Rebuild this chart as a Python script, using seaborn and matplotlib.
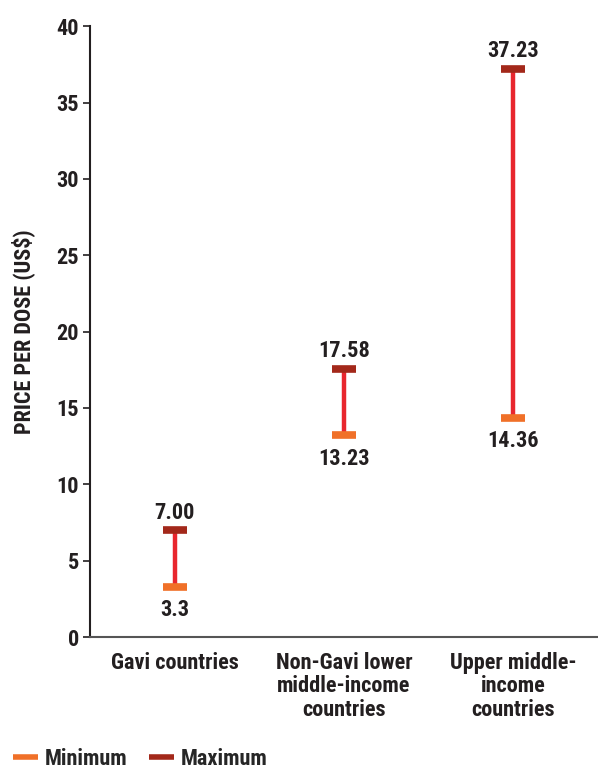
import matplotlib
matplotlib.use("Agg")
import matplotlib.pyplot as plt
from matplotlib.lines import Line2D
import pandas as pd
import seaborn as sns

categories = ["Gavi countries", "Non-Gavi lower\nmiddle-income\ncountries", "Upper middle-\nincome\ncountries"]
min_price = [3.3, 13.23, 14.36]
max_price = [7.00, 17.58, 37.23]
min_labels = ["3.3", "13.23", "14.36"]
max_labels = ["7.00", "17.58", "37.23"]

sns.set_style("white")
plt.rcParams['font.family'] = ['Roboto Condensed', 'DejaVu Sans']
plt.rcParams['font.weight'] = 'bold'

MIN_COL = "#f07028"
MAX_COL = "#a3281a"
LINE_COL = "#e8262e"
TXT = "#231f20"
FS = 16

df = pd.DataFrame({"cat": range(len(categories)), "min": min_price, "max": max_price})

fig = plt.figure(figsize=(5.98, 7.74), dpi=100)
ax = fig.add_axes([0.1505, 0.177, 0.8495, 0.789])

ax.vlines(df["cat"], df["min"], df["max"], color=LINE_COL, linewidth=3.2, zorder=2)
ax.plot(df["cat"], df["min"], linestyle="none", marker="_", markersize=17, mew=5.5,
        color=MIN_COL, zorder=3)
ax.plot(df["cat"], df["max"], linestyle="none", marker="_", markersize=17, mew=5.5,
        color=MAX_COL, zorder=3)

for i in range(len(categories)):
    ax.annotate(max_labels[i], (i, max_price[i]), xytext=(0, 4.5), textcoords="offset points",
                ha="center", va="bottom", fontsize=FS, fontweight="bold", color=TXT)
    ax.annotate(min_labels[i], (i, min_price[i]), xytext=(0, -9), textcoords="offset points",
                ha="center", va="top", fontsize=FS, fontweight="bold", color=TXT)

ax.set_xlim(-0.5, 2.5)
ax.set_ylim(0, 40)
ax.set_yticks(range(0, 41, 5))
ax.set_xticks(range(len(categories)))
ax.set_xticklabels(categories, fontsize=FS, fontweight="bold", color=TXT, linespacing=1.1)
ax.tick_params(axis="y", labelsize=FS, colors=TXT, left=True, length=5, width=1.2, pad=3)
ax.tick_params(axis="x", bottom=False, pad=7)
for lbl in ax.get_yticklabels():
    lbl.set_fontweight("bold")
ax.set_ylabel("PRICE PER DOSE (US$)", fontsize=FS, fontweight="bold", color=TXT, labelpad=15)

sns.despine(ax=ax, top=True, right=True)
ax.spines["left"].set_color(TXT)
ax.spines["left"].set_linewidth(1.5)
ax.spines["bottom"].set_color("#555555")
ax.spines["bottom"].set_linewidth(1.5)

handles = [Line2D([0], [0], color=MIN_COL, lw=4, solid_capstyle="butt"),
           Line2D([0], [0], color=MAX_COL, lw=4, solid_capstyle="butt")]
fig.legend(handles, ["Minimum", "Maximum"], loc="lower left", bbox_to_anchor=(0.0, -0.012),
           ncol=2, frameon=False, handlelength=1.1, handletextpad=0.3,
           columnspacing=1.0, borderaxespad=0.2, prop={"weight": "bold", "size": FS})

fig.savefig("out.png", dpi=100)
